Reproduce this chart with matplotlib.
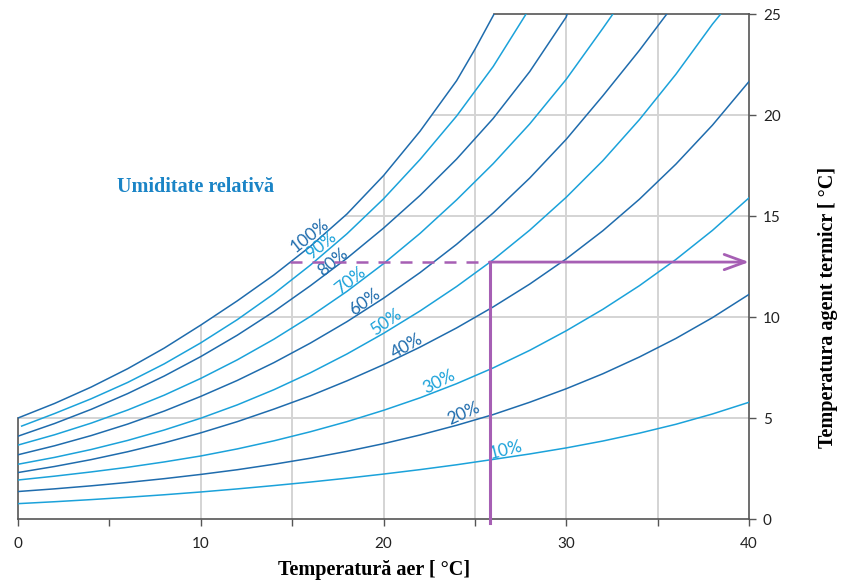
import matplotlib
matplotlib.use("Agg")
import matplotlib.pyplot as plt
from matplotlib.patches import Polygon

# date (din 2 in 2 grade, curbele taiate la 25)
x2 = [0, 2, 4, 6, 8, 10, 12, 14, 16, 18, 20, 22, 24, 26, 28, 30, 32, 34, 36, 38, 40]

x100 = [0, 2, 4, 6, 8, 10, 12, 14, 16, 18, 20, 22, 24, 25, 26.05]
y100 = [5.0, 5.72, 6.53, 7.44, 8.46, 9.6, 10.8, 12.08, 13.5, 15.1, 17.0, 19.2, 21.7, 23.25, 25.0]

x90 = [0.2, 2, 4, 6, 8, 10, 12, 14, 16, 18, 20, 22, 24, 26, 27.8]
y90 = [4.6, 5.22, 5.95, 6.76, 7.68, 8.72, 9.87, 11.15, 12.57, 14.12, 15.85, 17.8, 19.95, 22.4, 25.0]

x80 = x2[:16] + [30.05]
y80 = [4.1, 4.727, 5.427, 6.208, 7.077, 8.04, 9.1, 10.27, 11.55, 12.91, 14.4, 16.02, 17.82,
       19.83, 22.15, 24.86, 25.0]

x70 = x2[:17] + [32.55]
y70 = [3.66, 4.17, 4.745, 5.395, 6.13, 6.96, 7.88, 8.9, 10.03, 11.27, 12.64, 14.14, 15.8,
       17.59, 19.56, 21.77, 24.29, 25.0]

x60 = x2[:18] + [35.5]
y60 = [3.18, 3.625, 4.129, 4.699, 5.343, 6.07, 6.86, 7.74, 8.71, 9.77, 10.93, 12.2, 13.6,
       15.15, 16.88, 18.8, 20.95, 23.2, 25.0]

x50 = x2[:20] + [38.45]
y50 = [2.71, 3.05, 3.44, 3.89, 4.405, 4.99, 5.65, 6.4, 7.24, 8.17, 9.19, 10.3, 11.51,
       12.83, 14.3, 15.93, 17.74, 19.77, 22.02, 24.5, 25.0]

y40 = [2.3, 2.6, 2.94, 3.33, 3.77, 4.265, 4.82, 5.44, 6.1, 6.84, 7.64, 8.51, 9.46, 10.5,
       11.63, 12.88, 14.27, 15.83, 17.57, 19.5, 21.66]
y30 = [1.93, 2.12, 2.33, 2.56, 2.825, 3.12, 3.47, 3.87, 4.32, 4.82, 5.38, 6.0, 6.7, 7.48,
       8.35, 9.32, 10.38, 11.55, 12.85, 14.29, 15.9]
y20 = [1.36, 1.493, 1.642, 1.81, 1.997, 2.207, 2.44, 2.71, 3.01, 3.35, 3.73, 4.16, 4.64,
       5.17, 5.78, 6.45, 7.19, 8.02, 8.94, 9.97, 11.12]
y10 = [0.76, 0.855, 0.96, 1.075, 1.2, 1.338, 1.49, 1.655, 1.83, 2.02, 2.225, 2.445, 2.685,
       2.95, 3.22, 3.52, 3.86, 4.25, 4.69, 5.2, 5.78]

labels = ['100%', '90%', '80%', '70%', '60%', '50%', '40%', '30%', '20%', '10%']
curves = [(x100, y100), (x90, y90), (x80, y80), (x70, y70), (x60, y60),
          (x50, y50), (x2, y40), (x2, y30), (x2, y20), (x2, y10)]

# exemplu: aer 25.8 C -> 12.72
ex_x0 = 14.9
ex_x = 25.8
ex_y = 12.72

# pozitii si unghiuri etichete
label_pos = [(15.98, 14.05, 38), (16.6, 13.55, 39), (17.24, 12.72, 40), (18.17, 11.78, 38),
             (18.99, 10.74, 36), (20.14, 9.75, 35), (21.29, 8.56, 30), (23.04, 6.78, 27),
             (24.4, 5.24, 24), (26.7, 3.41, 14)]

dark = '#1f6cad'
light = '#1ba2da'
purple = '#a65fb4'
axc = '#555555'

plt.rcParams['font.family'] = ['Lato', 'DejaVu Sans']

fig = plt.figure(figsize=(8.47, 5.84), dpi=100)
ax = fig.add_axes([0.02125, 0.1113, 0.8631, 0.8647])
ax.set_xlim(0, 40)
ax.set_ylim(0, 25)

# grila doar sub curba de 100%
clip = Polygon(list(zip(x100, y100)) + [(40, 25), (40, 0), (0, 0)], closed=True,
               transform=ax.transData, facecolor='none', edgecolor='none')
ax.add_patch(clip)
for gx in [10, 15, 20, 25, 30, 35]:
    l, = ax.plot([gx, gx], [0, 25], color='#d4d4d4', lw=1.4, zorder=1)
    l.set_clip_path(clip)
for gy in [5, 10, 15, 20]:
    l, = ax.plot([0, 40], [gy, gy], color='#d4d4d4', lw=1.4, zorder=1)
    l.set_clip_path(clip)

for i, (cx, cy) in enumerate(curves):
    c = dark if i % 2 == 0 else light
    ax.plot(cx, cy, color=c, lw=1.1, zorder=3, solid_joinstyle='round')
    lx, ly, rot = label_pos[i]
    ax.text(lx, ly, labels[i], color=c, fontsize=12.5, rotation=rot,
            ha='center', va='center', rotation_mode='anchor', zorder=4)

# margini
for s in ['left', 'top']:
    ax.spines[s].set_visible(False)
for s in ['right', 'bottom']:
    ax.spines[s].set_color(axc)
    ax.spines[s].set_linewidth(1.2)
ax.plot([0, 0], [0, y100[0]], color=axc, lw=1.2, clip_on=False, zorder=2)
ax.plot([x100[-1], 40], [25, 25], color=axc, lw=1.2, clip_on=False, zorder=2)

# linia exemplu
ax.plot([ex_x0, ex_x], [ex_y, ex_y], color=purple, lw=1.8, dashes=(4.8, 4.0), zorder=5)
ax.plot([ex_x, ex_x], [ex_y, -0.2], color=purple, lw=2.2, clip_on=False, zorder=5)
ax.annotate('', xy=(40, ex_y), xytext=(ex_x, ex_y), zorder=5,
            arrowprops=dict(arrowstyle='->,head_length=1.5,head_width=0.55',
                            color=purple, lw=2.0, shrinkA=0, shrinkB=0))

ax.text(9.69, 16.43, 'Umiditate relativă', color='#1a84c6', fontsize=14.5,
        fontweight='bold', family='Liberation Serif', ha='center', va='center')

ax.yaxis.tick_right()
ax.set_xticks([0, 5, 10, 15, 20, 25, 30, 35, 40])
ax.set_xticklabels(['0', '', '10', '', '20', '', '30', '', '40'])
ax.set_yticks([0, 5, 10, 15, 20, 25])
ax.tick_params(axis='both', direction='out', length=5, width=1, color=axc,
               labelsize=11, labelcolor='#222222')
ax.tick_params(axis='x', pad=8)
ax.tick_params(axis='y', pad=5)

ax.set_xlabel('Temperatură aer [ °C]', family='Liberation Serif', fontweight='bold',
              fontsize=14.5)
ax.xaxis.set_label_coords(0.487, -0.101)
ax.xaxis.label.set_va('center')
ax.set_ylabel('Temperatura agent termicr [ °C]', family='Liberation Serif',
              fontweight='bold', fontsize=14.5)
ax.yaxis.set_label_position('right')
ax.yaxis.set_label_coords(1.108, 0.418)
ax.yaxis.label.set_va('center')
ax.yaxis.label.set_ha('center')

fig.savefig('out.png', dpi=100)
